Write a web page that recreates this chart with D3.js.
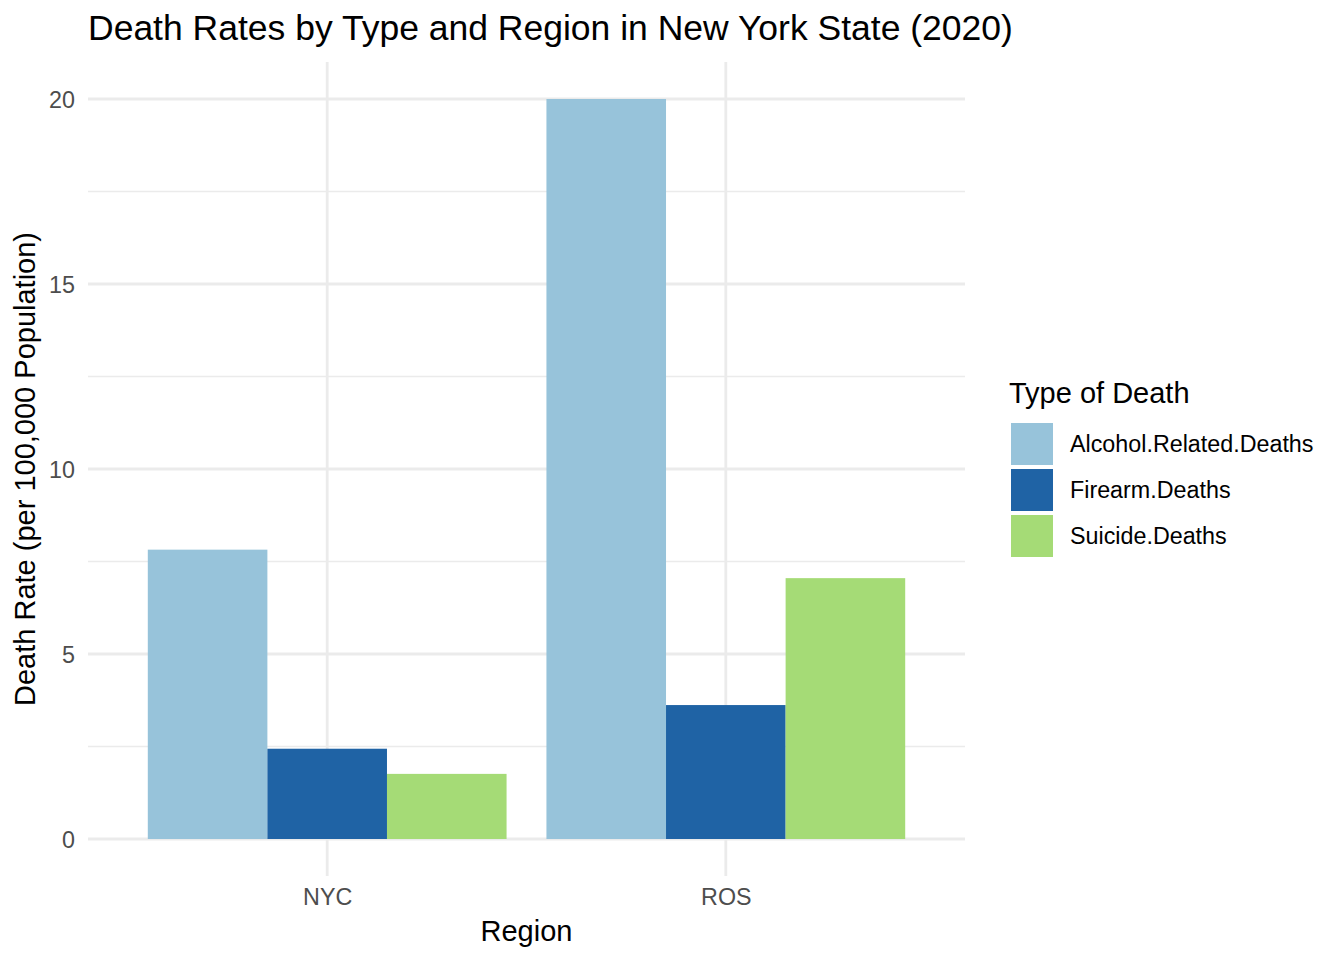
<!DOCTYPE html>
<html><head><meta charset="utf-8">
<script src="https://cdn.jsdelivr.net/npm/d3@7"></script>
<style>body{margin:0;background:#fff;} text{font-family:"Liberation Sans",Arial,sans-serif;}</style>
</head><body><svg id="c" width="1344" height="960"></svg>
<script>
const regions = ["NYC", "ROS"];
const deathTypes = ["Alcohol.Related.Deaths", "Firearm.Deaths", "Suicide.Deaths"];
const alcoholValues = [7.82, 20.0];
const firearmValues = [2.44, 3.62];
const suicideValues = [1.76, 7.05];
const yTicks = [0, 5, 10, 15, 20];
const yMinor = [2.5, 7.5, 12.5, 17.5];
const colors = ["#97C3DA", "#1F63A5", "#A5DB76"];
const seriesValues = [alcoholValues, firearmValues, suicideValues];

const svg = d3.select("#c");
const L = 88, R = 965, T = 62, B = 876;

// discrete scale with ggplot expansion of 0.6 units
const xPos = d3.scalePoint().domain(regions).range([L, R]).padding(0.6);
const step = xPos.step();
const y = d3.scaleLinear().domain([-1, 21]).range([B, T]);

const g = svg.append("g");
g.selectAll(".minor").data(yMinor).enter().append("line")
  .attr("x1", L).attr("x2", R).attr("y1", d => y(d)).attr("y2", d => y(d))
  .attr("stroke", "#EBEBEB").attr("stroke-width", 1.4);
g.selectAll(".majorY").data(yTicks).enter().append("line")
  .attr("x1", L).attr("x2", R).attr("y1", d => y(d)).attr("y2", d => y(d))
  .attr("stroke", "#EBEBEB").attr("stroke-width", 2.8);
g.selectAll(".majorX").data(regions).enter().append("line")
  .attr("x1", d => xPos(d)).attr("x2", d => xPos(d)).attr("y1", T).attr("y2", B)
  .attr("stroke", "#EBEBEB").attr("stroke-width", 2.8);

const groupW = step * 0.9;
const xSub = d3.scaleBand().domain(deathTypes).range([0, groupW]);
const rows = [];
regions.forEach((r, i) => deathTypes.forEach((t, j) => rows.push({region: r, type: t, value: seriesValues[j][i], c: colors[j]})));
g.selectAll(".bar").data(rows).enter().append("rect")
  .attr("x", d => xPos(d.region) - groupW / 2 + xSub(d.type))
  .attr("width", xSub.bandwidth())
  .attr("y", d => y(d.value))
  .attr("height", d => y(0) - y(d.value))
  .attr("fill", d => d.c);

const yAxis = d3.axisLeft(y).tickValues(yTicks).tickSize(0).tickPadding(13);
const ya = svg.append("g").attr("transform", `translate(${L},0)`).call(yAxis);
ya.select(".domain").remove();
ya.selectAll("text").attr("font-size", 23.3).attr("fill", "#4D4D4D").attr("font-family", "Liberation Sans, Arial, sans-serif").attr("dy", "0.35em");

const xAxis = d3.axisBottom(xPos).tickSize(0).tickPadding(12);
const xa = svg.append("g").attr("transform", `translate(0,${B})`).call(xAxis);
xa.select(".domain").remove();
xa.selectAll("text").attr("font-size", 23.3).attr("fill", "#4D4D4D").attr("font-family", "Liberation Sans, Arial, sans-serif");

svg.append("text").attr("x", L).attr("y", 40).attr("font-size", 35.5).attr("fill", "#000")
  .text("Death Rates by Type and Region in New York State (2020)");
svg.append("text").attr("x", (L + R) / 2).attr("y", 941).attr("text-anchor", "middle").attr("font-size", 29).attr("fill", "#000").text("Region");
svg.append("text").attr("transform", `translate(35,${(T + B) / 2}) rotate(-90)`).attr("text-anchor", "middle").attr("font-size", 29).attr("fill", "#000")
  .text("Death Rate (per 100,000 Population)");

const lg = svg.append("g");
lg.append("text").attr("x", 1009).attr("y", 403).attr("font-size", 29).attr("fill", "#000").text("Type of Death");
deathTypes.forEach((t, j) => {
  const top = 423 + j * 46;
  lg.append("rect").attr("x", 1011).attr("y", top).attr("width", 42).attr("height", 42).attr("fill", colors[j]);
  lg.append("text").attr("x", 1070).attr("y", top + 21 + 8).attr("font-size", 23.3).attr("fill", "#000").text(t);
});
</script></body></html>
